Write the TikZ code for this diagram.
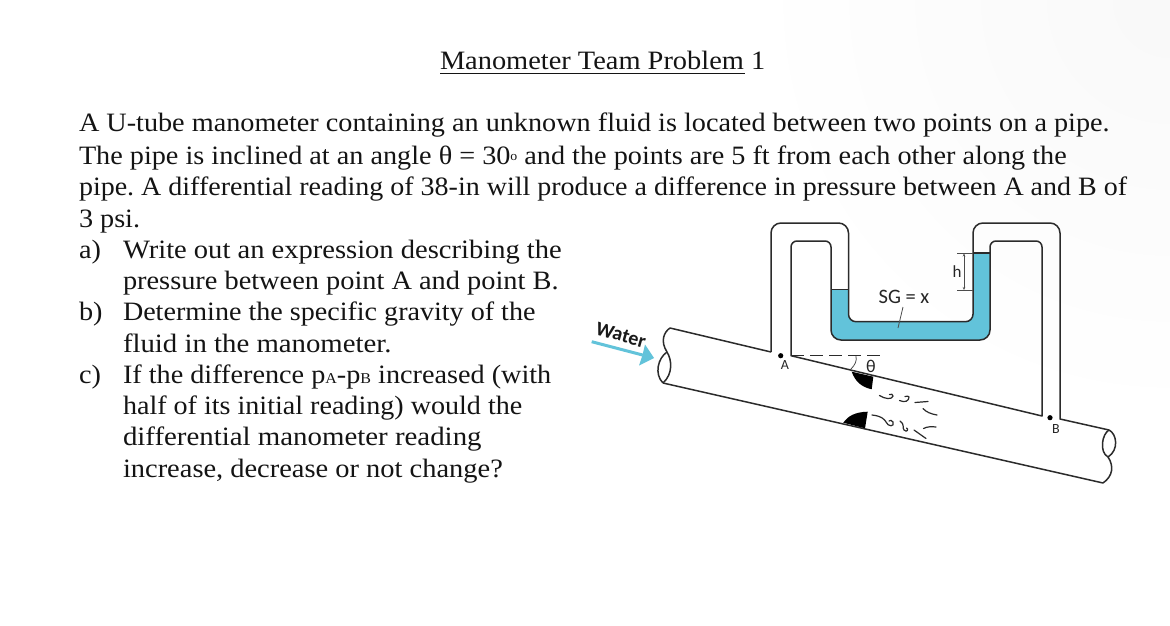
\documentclass[tikz,border=0pt]{standalone}
\usepackage{fontspec}
\usepackage{graphicx}
\usetikzlibrary{calc,arrows.meta}
\setmainfont[FakeStretch=1.065]{Liberation Serif}
\newfontfamily\labelfont{Carlito}
\definecolor{fluid}{HTML}{62C3DA}
\definecolor{inkk}{HTML}{141414}
\definecolor{pipeink}{HTML}{2B2B2B}
\newcommand\smallsub[1]{{\fontsize{15}{15}\selectfont #1}}
\newcommand\degmark{\raisebox{4pt}{\fontsize{13}{13}\selectfont o}}
\newcommand\fitx[2]{\scalebox{#1}[1]{#2}}
\tikzset{
  x=1pt,y=-1pt,
  txt/.style={anchor=base west,inner sep=0pt,outer sep=0pt,text=inkk,font=\fontsize{26.5}{26.5}\selectfont\frenchspacing},
  pipe/.style={draw=pipeink,line width=1.5pt,line join=round},
  swirl/.style={draw=pipeink,line width=1.2pt,line cap=round},
  tag/.style={inner sep=0pt,text=black!85,font=\labelfont\fontsize{17}{17}\selectfont},
  thin line/.style={draw=black!70,line width=0.8pt},
}
\begin{document}
\begin{tikzpicture}
\useasboundingbox (0,0) rectangle (1170,626);
\fill[white] (0,0) rectangle (1170,626);
\begin{scope}
\clip (0,0) rectangle (1170,626);
\shade[inner color=black!2.5,outer color=white] (1170,0) circle[radius=420];
\end{scope}
% text
\node[txt] (title) at (440,70) {\fitx{1.006}{Manometer Team Problem 1}};
\draw[line width=1pt,draw=inkk] (440,74) -- (745,74);
\node[txt] (l1) at (79,131) {A U-tube manometer containing an unknown fluid is located between two points on a pipe.};
\node[txt] (l2) at (79,164) {The pipe is inclined at an angle θ = 30\degmark{} and the points are 5 ft from each other along the};
\node[txt] (l3) at (79,195) {\fitx{0.9924}{pipe. A differential reading of 38-in will produce a difference in pressure between A and B of}};
\node[txt] (l4) at (79,227) {3 psi.};
\node[txt] (a0) at (79,258) {a)};
\node[txt] (a1) at (123,258) {\fitx{1.0115}{Write out an expression describing the}};
\node[txt] (a2) at (123,289) {\fitx{1.005}{pressure between point A and point B.}};
\node[txt] (b0) at (79,320) {b)};
\node[txt] (b1) at (123,320) {\fitx{0.995}{Determine the specific gravity of the}};
\node[txt] (b2) at (123,352) {\fitx{1.02}{fluid in the manometer.}};
\node[txt] (c0) at (79,383) {c)};
\node[txt] (c1) at (123,383) {If the difference p\smallsub{A}-p\smallsub{B} increased (with};
\node[txt] (c2) at (123,414) {\fitx{0.995}{half of its initial reading) would the}};
\node[txt] (c3) at (123,445) {\fitx{1.023}{differential manometer reading}};
\node[txt] (c4) at (123,477) {\fitx{1.008}{increase, decrease or not change?}};
% fluid
\fill[fluid] (831,289.5) -- (848.5,289.5) [rounded corners=7.5pt] -- (848.5,321.7) -- (973,321.7) [sharp corners] -- (973,253) -- (990,253) [rounded corners=10pt] -- (990,340) -- (831,340) [sharp corners] -- cycle;
% manometer
\draw[pipe] (771,352) [rounded corners=10pt] -- (771,223) -- (848.5,223) [rounded corners=7.5pt] -- (848.5,321.7) -- (973,321.7) [rounded corners=10pt] -- (973,223) -- (1060,223) [sharp corners] -- (1060,419) -- (1109,430);
\draw[pipe] (670,328) -- (771,352);
\draw[pipe] (1042,416) -- (791,355.7) [rounded corners=6pt] -- (791,241) -- (831,241) [rounded corners=10pt] -- (831,340) -- (990,340) [rounded corners=6pt] -- (990,241) -- (1042,241) [sharp corners] -- cycle;
\draw[pipe] (663,383) -- (1103,483);
\draw[pipe] (831,289.5) -- (848.5,289.5);
\draw[pipe] (973,253) -- (990,253);
% pipe breaks
\draw[pipe] (670,328) .. controls (664,332) and (660,341) .. (667,352) .. controls (672,360) and (673,374) .. (663,383);
\draw[pipe] (667,352) .. controls (658,358) and (654,374) .. (663,383);
\draw[pipe] (1109,430) .. controls (1102,434) and (1099,452) .. (1108,457) .. controls (1114,466) and (1113,476) .. (1103,483);
\draw[pipe] (1109,430) .. controls (1117,434) and (1119,450) .. (1108,457);
% dashed reference and angle
\draw[draw=pipeink,line width=1.1pt,dash pattern=on 13pt off 6pt] (791,355.7) -- (883,355.7);
\draw[thin line] (856,356) .. controls (857,361) and (855,365) .. (851,369);
\node[tag,font=\labelfont\fontsize{18}{18}\selectfont] (theta) at (871,366) {θ};
% obstruction
\fill[black] (851.7,371.7) -- (873.3,376.7) -- (871.7,389.3) .. controls (861,387) and (855,381) .. cycle;
\fill[black] (843.3,422.7) .. controls (848,416) and (855,412) .. (867.7,411.7) -- (865,428.3) -- cycle;
% swirls
\draw[swirl] (879.5,395.5) .. controls (885,399) and (892,400) .. (893,396) .. controls (893,394) and (891,394) .. (889.5,394.5);
\draw[swirl] (899.5,400.5) .. controls (905,403) and (909,401) .. (909,397) .. controls (909,396) and (907,396) .. (905,396.5);
\draw[swirl] (915,402.5) -- (928,401.5);
\draw[swirl] (923,408.5) .. controls (926,412) and (931,414) .. (937,415);
\draw[swirl] (872,415) .. controls (882,416) and (885,420) .. (886,422) .. controls (888,427) and (895,427) .. (893,422) .. controls (892,420) and (890,420) .. (889,421);
\draw[swirl] (900,421) .. controls (905,424) and (902,428) .. (904,430) .. controls (907,433) and (909,429) .. (906.5,428);
\draw[swirl] (914,430) -- (926,438.5);
\draw[swirl] (923.5,428.5) .. controls (927,426.5) and (932,426.5) .. (936,427);
% dimension h
\coordinate (ht) at (964,253.5);
\coordinate (hb) at (964,290);
\draw[thin line] (957,253.5) -- (973,253.5);
\draw[thin line] (957,290) -- (973,290);
\draw[thin line,{Stealth[length=3pt,width=2.5pt]}-{Stealth[length=3pt,width=2.5pt]}] (ht) -- (hb);
\node[tag] (h) at (957,272) {h};
\node[tag,font=\labelfont\fontsize{20.5}{20.5}\selectfont] (sg) at (904,297) {SG = x};
\coordinate (sgend) at (898,328);
\draw[thin line] (903,307) -- (sgend);
% points
\fill[black] (780.7,355.7) circle[radius=2.6];
\node[tag,font=\labelfont\fontsize{14}{14}\selectfont] (A) at (785,365) {A};
\fill[black] (1050,417.7) circle[radius=2.6];
\node[tag,font=\labelfont\fontsize{14}{14}\selectfont] (B) at (1056,429) {B};
% water
\node[inner sep=0pt,rotate=-16,text=black!90,font=\labelfont\bfseries\fontsize{20}{20}\selectfont] (water) at (621,335) {Water};
\coordinate (wa) at (591.7,341.7);
\coordinate (wb) at (654,358);
\draw[draw=fluid,line width=3pt] (wa) -- ($(wa)!0.82!(wb)$);
\fill[fluid] (wb) -- (639,365.5) -- (642.5,355) -- (645,344.5) -- cycle;
\end{tikzpicture}
\end{document}
